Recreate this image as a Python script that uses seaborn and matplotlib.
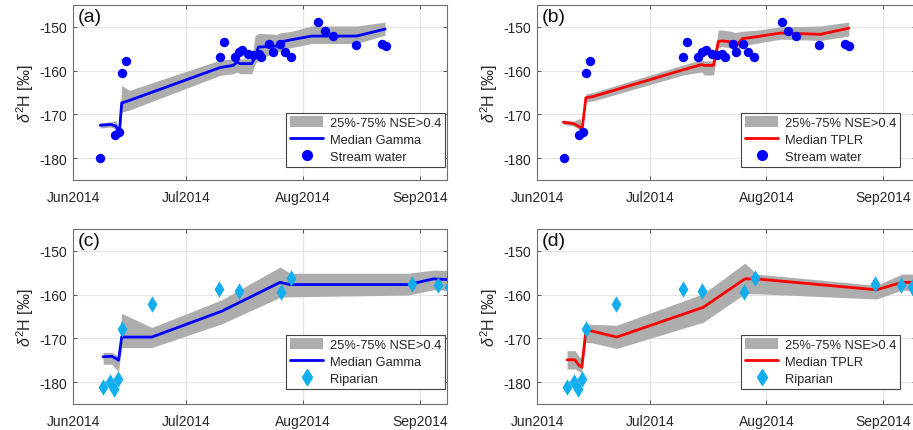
import numpy as np
import pandas as pd
import seaborn as sns
import matplotlib
matplotlib.use("Agg")
import matplotlib.pyplot as plt
import matplotlib.dates as mdates
from matplotlib.patches import Patch
from matplotlib.lines import Line2D

# observed samples
stream_dates = ["2014-06-08 05:00", "2014-06-12 02:00", "2014-06-13 05:00", "2014-06-13 22:00",
                "2014-06-15 00:00", "2014-07-09 22:00", "2014-07-11 00:00", "2014-07-13 22:00",
                "2014-07-14 22:00", "2014-07-15 22:00", "2014-07-17 12:00", "2014-07-18 19:00",
                "2014-07-20 05:00", "2014-07-21 00:00", "2014-07-23 00:00", "2014-07-24 00:00",
                "2014-07-25 22:00", "2014-07-27 05:00", "2014-07-28 17:00", "2014-08-05 02:00",
                "2014-08-06 19:00", "2014-08-08 22:00", "2014-08-15 00:00", "2014-08-21 22:00",
                "2014-08-23 00:00"]
stream_d2h = [-180.0, -174.8, -174.0, -160.5, -157.8, -156.8, -153.4, -156.9, -155.8, -155.3,
              -156.3, -156.5, -156.3, -156.9, -154.0, -155.7, -153.9, -155.7, -156.9, -148.9,
              -150.9, -152.1, -154.2, -154.0, -154.3]

riparian_dates = ["2014-06-09 00:00", "2014-06-10 22:00", "2014-06-11 19:00", "2014-06-13 00:00",
                  "2014-06-13 22:00", "2014-06-22 00:00", "2014-07-09 19:00", "2014-07-14 22:00",
                  "2014-07-26 02:00", "2014-07-28 22:00", "2014-08-29 19:00", "2014-09-05 22:00",
                  "2014-09-08 19:00"]
riparian_d2h = [-181.2, -179.9, -181.6, -179.3, -167.9, -162.1, -158.7, -159.2, -159.5, -156.3,
                -157.6, -157.7, -158.3]

# (a) Gamma model, stream water
gamma_sw_dates = ["2014-06-08 05:00", "2014-06-11 00:00", "2014-06-12 10:00", "2014-06-13 07:00",
                  "2014-06-13 22:00", "2014-06-16 00:00", "2014-07-10 00:00", "2014-07-13 12:00",
                  "2014-07-14 14:00", "2014-07-15 05:00", "2014-07-18 10:00", "2014-07-19 07:00",
                  "2014-07-20 05:00", "2014-07-25 00:00", "2014-07-26 07:00", "2014-07-28 14:00",
                  "2014-08-03 07:00", "2014-08-15 05:00", "2014-08-22 19:00"]
gamma_sw_med = [-172.5, -172.3, -172.7, -174.3, -167.4, -166.8, -159.3, -158.8, -158.0, -158.4,
                -158.4, -156.9, -154.6, -154.4, -153.4, -153.0, -152.1, -152.1, -150.5]
gamma_sw_lo = [-173.1, -172.9, -173.4, -174.9, -169.5, -169.0, -161.1, -160.7, -160.3, -160.7,
               -160.7, -158.5, -157.4, -155.8, -155.4, -154.8, -153.8, -153.8, -151.9]
gamma_sw_hi = [-171.9, -171.7, -171.4, -173.7, -163.4, -164.5, -157.6, -157.3, -157.0, -157.3,
               -157.3, -152.0, -151.5, -151.7, -151.3, -151.1, -149.8, -149.8, -148.9]

# (b) TPLR model, stream water
tplr_sw_dates = ["2014-06-08 00:00", "2014-06-10 17:00", "2014-06-12 10:00", "2014-06-13 00:00",
                 "2014-06-14 00:00", "2014-06-16 00:00", "2014-07-09 22:00", "2014-07-14 19:00",
                 "2014-07-15 12:00", "2014-07-17 22:00", "2014-07-19 05:00", "2014-07-20 02:00",
                 "2014-07-22 12:00", "2014-07-23 19:00", "2014-07-25 14:00", "2014-07-29 02:00",
                 "2014-08-04 19:00", "2014-08-15 10:00", "2014-08-22 22:00"]
tplr_sw_med = [-171.8, -172.1, -172.9, -173.5, -166.2, -165.9, -159.8, -158.6, -158.8, -158.8,
               -153.4, -153.2, -153.4, -154.5, -152.7, -152.3, -151.4, -151.7, -150.3]
tplr_sw_lo = [-172.3, -172.6, -173.6, -174.2, -167.2, -166.9, -161.0, -160.3, -161.0, -161.0,
              -154.8, -154.5, -154.8, -155.8, -154.3, -153.8, -152.8, -153.1, -152.1]
tplr_sw_hi = [-171.3, -171.6, -170.9, -172.8, -165.3, -165.0, -158.7, -157.5, -157.8, -157.8,
              -150.7, -150.7, -151.0, -151.3, -151.0, -150.8, -150.0, -149.8, -148.9]

# (c) Gamma model, riparian
gamma_rp_dates = ["2014-06-09 00:00", "2014-06-11 07:00", "2014-06-12 14:00", "2014-06-13 02:00",
                  "2014-06-13 22:00", "2014-06-21 22:00", "2014-07-10 10:00", "2014-07-25 22:00",
                  "2014-07-28 14:00", "2014-08-28 22:00", "2014-09-04 14:00", "2014-09-09 12:00"]
gamma_rp_med = [-174.2, -174.1, -174.7, -175.0, -169.7, -169.7, -163.8, -157.2, -157.7, -157.7,
                -156.4, -156.6]
gamma_rp_lo = [-175.9, -175.9, -177.2, -177.4, -172.1, -172.1, -166.7, -160.6, -160.5, -160.1,
               -158.9, -159.0]
gamma_rp_hi = [-173.2, -173.2, -173.9, -174.0, -164.3, -167.5, -161.2, -153.7, -155.1, -155.1,
               -154.4, -154.5]

# (d) TPLR model, riparian
tplr_rp_dates = ["2014-06-09 00:00", "2014-06-11 02:00", "2014-06-12 05:00", "2014-06-12 22:00",
                 "2014-06-14 00:00", "2014-06-15 12:00", "2014-06-22 05:00", "2014-07-15 05:00",
                 "2014-07-26 07:00", "2014-07-29 10:00", "2014-08-30 07:00", "2014-09-06 00:00",
                 "2014-09-10 00:00"]
tplr_rp_med = [-174.9, -174.9, -176.2, -176.6, -168.2, -168.3, -169.7, -162.9, -156.4, -156.4,
               -158.9, -157.2, -157.2]
tplr_rp_lo = [-177.0, -177.0, -177.6, -177.8, -170.9, -171.0, -172.3, -166.3, -159.8, -159.8,
              -161.0, -159.0, -159.0]
tplr_rp_hi = [-172.8, -172.8, -174.2, -174.6, -166.7, -166.8, -167.0, -159.8, -152.8, -155.3,
              -157.9, -155.3, -155.3]

yticks = [-180, -170, -160, -150]

sns.set_theme(style="whitegrid")
plt.rcParams['font.family'] = ['Liberation Sans', 'DejaVu Sans']
plt.rcParams['axes.unicode_minus'] = False
plt.rcParams['mathtext.fontset'] = 'custom'
plt.rcParams['mathtext.rm'] = 'Liberation Sans'
plt.rcParams['mathtext.it'] = 'Liberation Sans:italic'

W, H = 913, 431
fig = plt.figure(figsize=(W / 100, H / 100), dpi=100)

band_grey = '#ADADAD'
cyan = '#12AEF0'


def px_axes(left, top, right, bottom):
    return fig.add_axes([left / W, 1 - bottom / H, (right - left) / W, (bottom - top) / H])


def panel(ax, dts, med, lo, hi, lcolor, obs_d, obs_v, marker, mcolor, lab_line, lab_obs,
          tag, xmax, leg_xy):
    x = pd.to_datetime(dts)
    ax.fill_between(x, lo, hi, color=band_grey, lw=0, zorder=1)
    sns.lineplot(x=x, y=med, ax=ax, color=lcolor, lw=2, sort=False, estimator=None, zorder=2)
    if marker == 'o':
        sns.scatterplot(x=pd.to_datetime(obs_d), y=obs_v, ax=ax, marker='o', color=mcolor,
                        s=46, linewidth=0, zorder=3)
        mh = Line2D([], [], ls='none', marker='o', color=mcolor, markersize=7)
    else:
        sns.scatterplot(x=pd.to_datetime(obs_d), y=obs_v, ax=ax, marker='d', color=mcolor,
                        s=70, linewidth=0, zorder=3)
        mh = Line2D([], [], ls='none', marker='d', color=mcolor, markersize=8)

    ax.set_xlim(pd.Timestamp("2014-06-01"), pd.Timestamp(xmax))
    ax.set_ylim(-185, -145)
    ax.set_yticks(yticks)
    ax.xaxis.set_major_locator(mdates.MonthLocator())
    ax.xaxis.set_major_formatter(mdates.DateFormatter('%b%Y'))
    ax.set_xlabel('')
    ax.set_ylabel(r'$\delta^2$H [‰]', fontsize=11.5, color='#262626', labelpad=3)
    ax.grid(True, color='#E4E4E4', lw=0.8)
    ax.tick_params(direction='in', length=3, width=0.7, color='#555555', labelsize=10,
                   labelcolor='#262626', top=True, right=True, bottom=True, left=True)
    ax.tick_params(axis='x', pad=7)
    ax.tick_params(axis='y', pad=4)
    for s in ax.spines.values():
        s.set_visible(True)
        s.set_color('#6E6E6E')
        s.set_linewidth(0.8)
    ax.text(0.012, 0.985, tag, transform=ax.transAxes, ha='left', va='top', fontsize=14,
            color='#111111')

    handles = [Patch(facecolor=band_grey, edgecolor='none'),
               Line2D([], [], color=lcolor, lw=2), mh]
    labels = ['25%-75% NSE>0.4', lab_line, lab_obs]
    leg = ax.legend(handles, labels, loc='lower right',
                    bbox_to_anchor=(leg_xy[0] / W, 1 - leg_xy[1] / H),
                    bbox_transform=fig.transFigure, borderaxespad=0, frameon=True,
                    fancybox=False, edgecolor='#444444', framealpha=1, fontsize=9.3,
                    handlelength=2.6, handleheight=0.9, labelspacing=0.32, borderpad=0.3,
                    handletextpad=0.5)
    leg.get_frame().set_linewidth(0.8)


ax_a = px_axes(73, 6, 447, 181)
ax_b = px_axes(537, 6, 916, 181)
ax_c = px_axes(73, 230, 447, 405)
ax_d = px_axes(537, 230, 916, 405)

panel(ax_a, gamma_sw_dates, gamma_sw_med, gamma_sw_lo, gamma_sw_hi, '#0000FF',
      stream_dates, stream_d2h, 'o', '#0000FF', 'Median Gamma', 'Stream water',
      '(a)', "2014-09-08 05:00", (445, 168))
panel(ax_b, tplr_sw_dates, tplr_sw_med, tplr_sw_lo, tplr_sw_hi, '#FF0000',
      stream_dates, stream_d2h, 'o', '#0000FF', 'Median TPLR', 'Stream water',
      '(b)', "2014-09-09 19:00", (900, 168))
panel(ax_c, gamma_rp_dates, gamma_rp_med, gamma_rp_lo, gamma_rp_hi, '#0000FF',
      riparian_dates, riparian_d2h, 'd', cyan, 'Median Gamma', 'Riparian',
      '(c)', "2014-09-08 05:00", (445, 390))
panel(ax_d, tplr_rp_dates, tplr_rp_med, tplr_rp_lo, tplr_rp_hi, '#FF0000',
      riparian_dates, riparian_d2h, 'd', cyan, 'Median TPLR', 'Riparian',
      '(d)', "2014-09-09 19:00", (900, 390))

fig.savefig('out.png', dpi=100, facecolor='white')
